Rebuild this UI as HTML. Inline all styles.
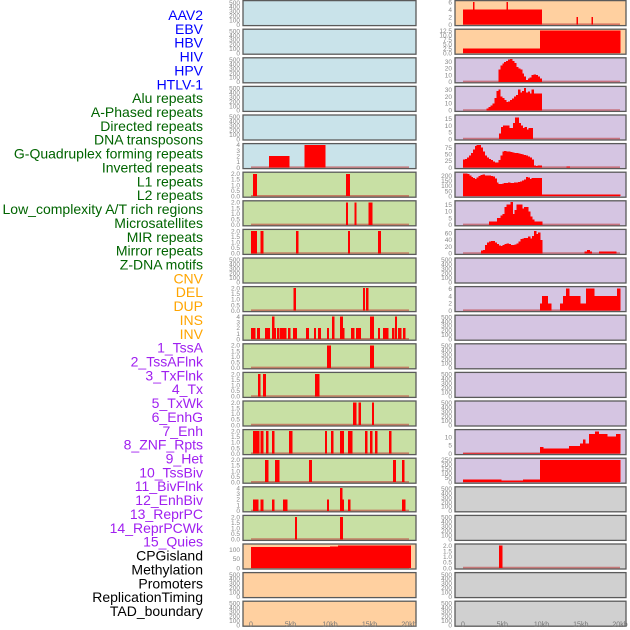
<!DOCTYPE html>
<html><head><meta charset="utf-8"><style>
html,body{margin:0;padding:0;background:#fff;width:630px;height:630px;overflow:hidden}
svg{display:block}
text{font-family:"Liberation Sans",sans-serif}
</style></head><body>
<svg id="c" width="630" height="630" viewBox="0 0 630 630"></svg>
<script>
// ---- labels ----
const trackLabels = ["AAV2","EBV","HBV","HIV","HPV","HTLV-1","Alu repeats","A-Phased repeats","Directed repeats","DNA transposons","G-Quadruplex forming repeats","Inverted repeats","L1 repeats","L2 repeats","Low_complexity A/T rich regions","Microsatellites","MIR repeats","Mirror repeats","Z-DNA motifs","CNV","DEL","DUP","INS","INV","1_TssA","2_TssAFlnk","3_TxFlnk","4_Tx","5_TxWk","6_EnhG","7_Enh","8_ZNF_Rpts","9_Het","10_TssBiv","11_BivFlnk","12_EnhBiv","13_ReprPC","14_ReprPCWk","15_Quies","CPGisland","Methylation","Promoters","ReplicationTiming","TAD_boundary"];
const labelGroups = [6,13,5,15,5];
const groupColors = ["#0000ff","#006400","#ffa500","#a020f0","#000000"];
const xTickValues = [0,5,10,15,20];
const xTickLabels = ["0","5kb","10kb","15kb","20kb"];
const emptyTicks = [0,100,200,300,400,500];
const t2 = [0,0.5,1,1.5,2];
const t4 = [0,1,2,3,4];
const BLUE="#c9e3ea",GREEN="#c8e0a4",ORANGE="#ffd0a0",PURPLE="#d5c5e2",GRAY="#d0d0d0";

// segment data: starts (kb), ends (kb), values
const L5s=[2.3,6.8],L5e=[4.8,9.4],L5v=[2,4];
const L6s=[0.25,12.0],L6e=[0.7,12.5],L6v=[2,2];
const L7s=[12.0,13.1,14.9],L7e=[12.2,13.3,15.3],L7v=[2,2,2];
const L8s=[0,0.25,1.2,5.7,12.3,16.1],L8e=[0.2,0.7,1.5,5.95,12.5,16.4],L8v=[2,2,2,2,2,2];
const L10s=[5.35,14.2,14.55],L10e=[5.65,14.4,14.8],L10v=[2,2,2];
const L11s=[0,0.75,1.8,2.65,2.9,3.3,3.65,4.7,5.3,6.95,8.0,8.5,9.6,10.25,11.25,11.6,12.65,13.3,15.05,16.1,16.7,17.85,18.2,18.6,19.25];
const L11e=[0.5,1.1,2.35,2.9,3.1,3.55,4.45,4.95,5.8,7.3,8.2,8.8,9.85,10.5,11.6,11.8,13.05,13.9,15.55,16.3,17.35,18.1,18.45,19.0,19.5];
const L11v=[2,2,2,4,2,2,2,2,2,2,2,2,2,4,4,2,2,2,4,2,2,2,4,2,2];
const L12s=[9.6,15.05],L12e=[10.1,15.55],L12v=[2,2];
const L13s=[0.9,1.5,8.1],L13e=[1.15,1.85,8.6],L13v=[2,2,2];
const L14s=[12.9,13.6,15.3],L14e=[13.3,13.9,15.5],L14v=[2,2,2];
const L15s=[0.25,1.2,1.9,2.65,4.8,9.35,10.1,11.25,12.3,14.4,15.05,15.7,17.45];
const L15e=[1.0,1.5,2.15,2.9,5.2,9.6,10.4,11.75,12.8,14.7,15.3,15.95,17.75];
const L15v=[2,2,2,2,2,2,2,2,2,2,2,2,2];
const L16s=[1.8,3.05,7.35,18.0,19.1],L16e=[2.15,3.55,7.7,18.3,19.35],L16v=[2,2,2,2,2];
const L17s=[0.25,1.2,2.65,4.05,9.6,11.25,11.5,12.3,19.1],L17e=[0.9,1.5,2.9,4.55,9.85,11.5,11.75,12.55,19.5],L17v=[2,2,2,2,2,4,2,2,2];
const L18s=[5.6,11.25],L18e=[5.8,11.6],L18v=[2,2];
const L19s=[0,10.0,11.0],L19e=[10.0,11.0,20.2],L19v=[116,119,123];
const R0s=[0,1.25,5.55,14.45,16.35],R0e=[10.0,1.4,5.7,14.6,16.5],R0v=[4,6,6,2,2];
const R1s=[0,9.8],R1e=[9.8,20.0],R1v=[2.5,12.5];
const R5s=[13.2],R5e=[13.6],R5v=[4];
const R6s=[10.0],R6e=[20.0],R6v=[15];
const R8s=[15.5,15.8,16.1,17.3],R8e=[15.8,16.1,16.4,19.5],R8v=[6,10,6,6];
const R10s=[9.8,10.05,10.8,12.35,12.75,13.1,13.5,14.9,15.7,16.7,19.6],R10e=[10.05,10.8,11.2,12.75,13.1,13.5,14.9,15.7,16.7,19.6,20.0],R10v=[2,4,2,2,4,6,4,2,6,4,6];
const R15s=[0,9.8,10.2,13.5,14.9,15.3,15.55,16.05,16.8,17.3,18.35,19.5],R15e=[9.8,10.2,13.5,14.9,15.3,15.55,16.05,16.8,17.3,18.35,19.5,20.0],R15v=[0.5,4,3,4.5,6,8.5,6,12,13.5,12,10.5,12];
const R16s=[0,4.85,7.65,9.8],R16e=[4.85,7.65,9.8,20.0],R16v=[30,20,30,250];
const R19s=[4.6],R19e=[5.0],R19v=[2];
// histogram data: start kb, 0.25kb bins
const R2h=[18,24,27,29,31,33,34,31,28,22,20,18,12,8,3,5,6,10,11,10,8,5];
const R3h=[3,5,7,10,18,28,30,20,18,15,12,13,15,17,20,22,30,26,28,32,26,27,24,30,24,24,24,24];
const R4h=[4,9,10,10,10,8,8,12,16,16,12,10,8,9,7,8,8];
const R5h=[30,32,38,45,55,68,80,85,84,75,60,45,38,32,28,22,20,20,28,45,60,62,61,60,58,56,55,54,52,50,49,48,45,42,38,30,8,6,8,8];
const R6h=[220,218,212,200,185,175,168,180,195,205,208,200,198,198,195,188,170,130,120,120,122,125,128,130,128,126,130,132,135,140,150,160,185,180,165,175,178,178,178,178];
const R7h=[2.5,2.5,2.5,2.5,5,5,7,8,13,15,15,17,8,11,15,15,15,12,13,13,10,6,4,2.5,2.5,2.5,2.5];
const R8h=[8,10,25,32,35,36,36,32,28,24,22,25,28,30,28,25,25,26,30,35,42,44,45,46,50,44,52,66,58,62,40];

function P(col,row,bg,ymax,ticks,fmt,segs,hist){return {col,row,bg,ymax,ticks,fmt,segs,hist};}
const panels=[];
for(let r=0;r<5;r++)panels.push(P(0,r,BLUE,520,emptyTicks,0,null,null));
panels.push(P(0,5,BLUE,4.05,t4,0,[L5s,L5e,L5v],null));
panels.push(P(0,6,GREEN,2.05,t2,1,[L6s,L6e,L6v],null));
panels.push(P(0,7,GREEN,2.05,t2,1,[L7s,L7e,L7v],null));
panels.push(P(0,8,GREEN,2.05,t2,1,[L8s,L8e,L8v],null));
panels.push(P(0,9,GREEN,520,emptyTicks,0,null,null));
panels.push(P(0,10,GREEN,2.05,t2,1,[L10s,L10e,L10v],null));
panels.push(P(0,11,GREEN,4.05,t4,0,[L11s,L11e,L11v],null));
panels.push(P(0,12,GREEN,2.05,t2,1,[L12s,L12e,L12v],null));
panels.push(P(0,13,GREEN,2.05,t2,1,[L13s,L13e,L13v],null));
panels.push(P(0,14,GREEN,2.05,t2,1,[L14s,L14e,L14v],null));
panels.push(P(0,15,GREEN,2.05,t2,1,[L15s,L15e,L15v],null));
panels.push(P(0,16,GREEN,2.05,t2,1,[L16s,L16e,L16v],null));
panels.push(P(0,17,GREEN,4.05,t4,0,[L17s,L17e,L17v],null));
panels.push(P(0,18,GREEN,2.05,t2,1,[L18s,L18e,L18v],null));
panels.push(P(0,19,ORANGE,126,[0,50,100],0,[L19s,L19e,L19v],null));
panels.push(P(0,20,ORANGE,520,emptyTicks,0,null,null));
panels.push(P(0,21,ORANGE,520,emptyTicks,0,null,null));
panels.push(P(1,0,ORANGE,6.1,[0,2,4,6],0,[R0s,R0e,R0v],null));
panels.push(P(1,1,ORANGE,12.7,[0,2.5,5,7.5,10,12.5],1,[R1s,R1e,R1v],null));
panels.push(P(1,2,PURPLE,34,[0,10,20,30],0,null,[4.5,R2h]));
panels.push(P(1,3,PURPLE,33,[0,10,20,30],0,null,[3.0,R3h]));
panels.push(P(1,4,PURPLE,17,[0,5,10,15],0,null,[4.6,R4h]));
panels.push(P(1,5,PURPLE,86,[0,25,50,75],0,[R5s,R5e,R5v],[0,R5h]));
panels.push(P(1,6,PURPLE,222,[0,50,100,150,200],0,[R6s,R6e,R6v],[0,R6h]));
panels.push(P(1,7,PURPLE,17,[0,5,10,15],0,null,[3.3,R7h]));
panels.push(P(1,8,PURPLE,68,[0,20,40,60],0,[R8s,R8e,R8v],[2.3,R8h]));
panels.push(P(1,9,PURPLE,520,emptyTicks,0,null,null));
panels.push(P(1,10,PURPLE,6.3,[0,2,4,6],0,[R10s,R10e,R10v],null));
for(let r=11;r<15;r++)panels.push(P(1,r,PURPLE,520,emptyTicks,0,null,null));
panels.push(P(1,15,PURPLE,14,[0,5,10],0,[R15s,R15e,R15v],null));
panels.push(P(1,16,PURPLE,258,[0,50,100,150,200,250],0,[R16s,R16e,R16v],null));
panels.push(P(1,17,GRAY,520,emptyTicks,0,null,null));
panels.push(P(1,18,GRAY,520,emptyTicks,0,null,null));
panels.push(P(1,19,GRAY,2.05,t2,1,[R19s,R19e,R19v],null));
panels.push(P(1,20,GRAY,520,emptyTicks,0,null,null));
panels.push(P(1,21,GRAY,520,emptyTicks,0,null,null));

const svg=document.getElementById('c');
const NS="http://www.w3.org/2000/svg";
function mk(tag,attrs,parent){const e=document.createElementNS(NS,tag);for(const k in attrs)e.setAttribute(k,attrs[k]);(parent||svg).appendChild(e);return e;}
const COLS=[{left:243,right:416,x0:251,ppk:7.9},{left:455,right:626,x0:463,ppk:7.85}];
function xScale(col,kb){return COLS[col].x0+kb*COLS[col].ppk;}
function rowTop(r){return 0.6+r*28.6;}
function yScale(p,v){const t=rowTop(p.row);return t+24-Math.min(v/p.ymax,1.04)*23;}

// labels
let li=0;
labelGroups.forEach((n,g)=>{for(let k=0;k<n;k++){const t=mk('text',{x:203,y:20+li*13.86,'text-anchor':'end','font-size':'14',fill:groupColors[g]});


t.textContent=trackLabels[li];li++;}});

panels.forEach(p=>{
  const c=COLS[p.col],top=rowTop(p.row);
  const g=mk('g',{});
  
  
  mk('rect',{x:c.left,y:top,width:c.right-c.left,height:25,fill:p.bg,stroke:'#5a5a5a','stroke-width':1.3},g);
  p.ticks.forEach(tv=>{const t=mk('text',{x:c.left-3,y:yScale(p,tv)+2.3,'text-anchor':'end','font-size':'6.5',fill:'#888'},g);
    
    
    t.textContent=p.fmt?tv.toFixed(1):String(tv);});
  const hasData=p.segs||p.hist;
  if(hasData){
    const b=mk('line',{x1:xScale(p.col,0),x2:xScale(p.col,20),y1:top+23.6,y2:top+23.6,stroke:'rgba(190,50,50,0.55)','stroke-width':1.6},g);
    
    
  }
  function bar(s,e,v){const x1=xScale(p.col,s),x2=xScale(p.col,e),y=yScale(p,v);
    const r=mk('rect',{x:x1,y:y,width:Math.max(x2-x1+0.4,1.6),height:top+24-y,fill:'#ff0000','shape-rendering':'crispEdges'},g);
    
    }
  if(p.hist){const st=p.hist[0],vals=p.hist[1];vals.forEach((v,i)=>bar(st+i*0.25,st+(i+1)*0.25,v));}
  if(p.segs){const [s,e,v]=p.segs;s.forEach((x,i)=>bar(x,e[i],v[i]));}
});
// x axes
[0,1].forEach(col=>{xTickValues.forEach((v,i)=>{const t=mk('text',{x:xScale(col,v),y:626.5,'text-anchor':'middle','font-size':'7',fill:'#777'});
  
  
  t.textContent=xTickLabels[i];});});
</script>
</body></html>
